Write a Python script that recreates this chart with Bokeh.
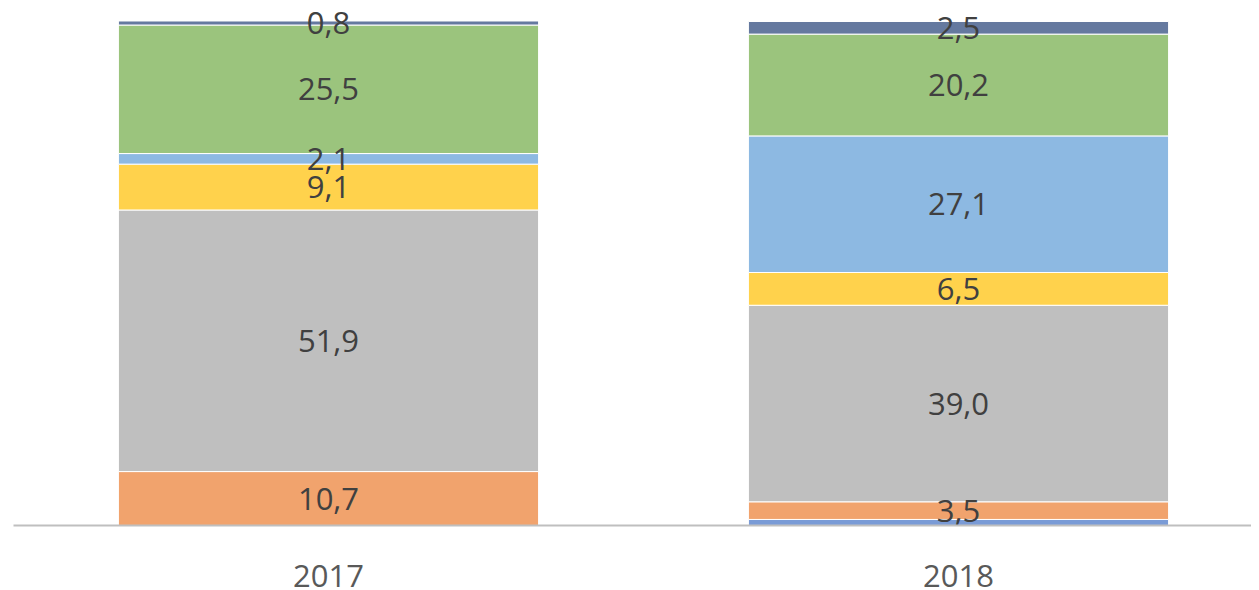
from bokeh.plotting import figure
from bokeh.models import ColumnDataSource, Range1d, FixedTicker
from bokeh.core.properties import value
from bokeh.embed import file_html
from bokeh.resources import INLINE

years = ["2017", "2018"]
series = ["s1", "s2", "s3", "s4", "s5", "s6", "s7"]
s1 = [0.0, 1.2]
s2 = [10.7, 3.5]
s3 = [51.9, 39.0]
s4 = [9.1, 6.5]
s5 = [2.1, 27.1]
s6 = [25.5, 20.2]
s7 = [0.8, 2.5]
colors = ["#7A9BD6", "#F1A36D", "#BFBFBF", "#FFD24C", "#8DB9E2", "#9BC47D", "#65799F"]
labeled = [False, True, True, True, True, True, True]

values = [s1, s2, s3, s4, s5, s6, s7]
xs = list(range(len(years)))

BL, BB, BT = 13, 65, 8
frame_w, frame_h = 1238, 517
W, H = BL + frame_w, BT + frame_h + BB
px_per_cat = 630.0
p = figure(width=W, height=H, output_backend="svg", toolbar_location=None,
           min_border_left=BL, min_border_right=0, min_border_top=BT, min_border_bottom=BB,
           x_range=Range1d(-0.5, -0.5 + frame_w / px_per_cat),
           y_range=Range1d(0, 100 * frame_h / 504.0))
p.outline_line_color = None
p.xgrid.visible = False
p.ygrid.visible = False
p.yaxis.visible = False

data = {"x": xs}
for name, v in zip(series, values):
    data[name] = v
src = ColumnDataSource(data)
p.vbar_stack(series, x="x", width=0.667, source=src, color=colors,
             line_color="white", line_width=1)

lx, ly, lt = [], [], []
for i in range(len(years)):
    base = 0.0
    for v, show in zip(values, labeled):
        if show and v[i] > 0:
            lx.append(xs[i])
            ly.append(base + v[i] / 2.0)
            lt.append(f"{v[i]:.1f}".replace(".", ","))
        base += v[i]
p.text(x=lx, y=ly, text=lt, text_align="center", text_baseline="middle",
       text_font=value("Open Sans"), text_font_size="31px", text_color="#404040")

ax = p.xaxis[0]
ax.ticker = FixedTicker(ticks=xs)
ax.major_label_overrides = {i: y for i, y in zip(xs, years)}
ax.major_label_text_font = "Open Sans"
ax.major_label_text_font_size = "31px"
ax.major_label_text_color = "#595959"
ax.major_label_standoff = 33
ax.major_tick_line_color = None
ax.minor_tick_line_color = None
ax.axis_line_color = "#BFBFBF"
ax.axis_line_width = 2

open("out.html", "w").write(file_html(p, INLINE))
